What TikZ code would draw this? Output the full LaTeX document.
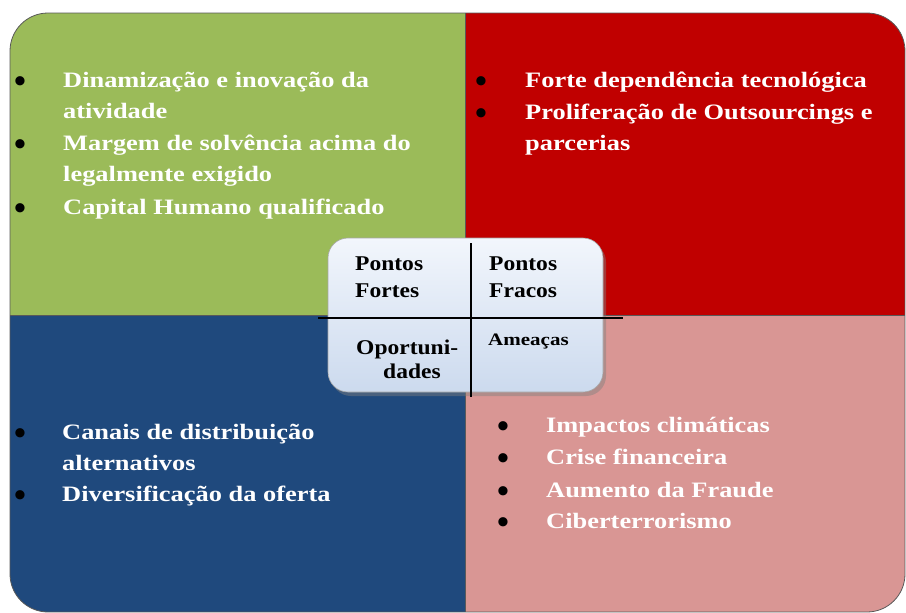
\documentclass[tikz,border=0pt]{standalone}
\usepackage{fontspec}
\setmainfont{Liberation Serif}
\newfontfamily\qfont[FakeStretch=1.2]{Liberation Serif}
\newfontfamily\cfont[FakeStretch=1.12]{Liberation Serif}
\usetikzlibrary{shadows}
\definecolor{qgreen}{HTML}{9BBB59}
\definecolor{qred}{HTML}{C00000}
\definecolor{qblue}{HTML}{1F497D}
\definecolor{qpink}{HTML}{D99694}
\definecolor{boxtop}{HTML}{F2F6FC}
\definecolor{boxbot}{HTML}{CCDAEE}
\begin{document}
\begin{tikzpicture}[x=1pt,y=-1pt,
  item/.style={anchor=base west, inner sep=0pt, text=white, font=\qfont\bfseries\fontsize{22}{26}\selectfont},
  dot/.style={anchor=center, inner sep=0pt, text=black, yshift=2pt, font=\bfseries\fontsize{34}{34}\selectfont},
  ctr/.style={anchor=base west, inner sep=0pt, text=black, font=\cfont\bfseries\fontsize{21}{25}\selectfont},
  ctrsmall/.style={anchor=base west, inner sep=0pt, text=black, font=\qfont\bfseries\fontsize{17.5}{21}\selectfont},
  edge/.style={draw=black!65, line width=0.8pt},
  cross/.style={draw=black, line width=1.5pt},
]
\useasboundingbox (0,0) rectangle (906,613);

% quadrants
\begin{scope}
  \clip[rounded corners=38pt] (10,13) rectangle (905,612);
  \fill[qgreen] (10,13) rectangle (465,315);
  \fill[qred]   (465,13) rectangle (905,315);
  \fill[qblue]  (10,315) rectangle (465,612);
  \fill[qpink]  (465,315) rectangle (905,612);
  \draw[edge] (465,13) -- (465,612);
  \draw[edge] (10,315) -- (905,315);
\end{scope}
\draw[edge, rounded corners=38pt] (10,13) rectangle (905,612);

% green
\node[dot]  (gb1) at (20,87)  {•};
\node[item] (g1)  at (63,87)  {Dinamização e inovação da};
\node[item] (g2)  at (63,118) {atividade};
\node[dot]  (gb2) at (20,150) {•};
\node[item] (g3)  at (63,150) {Margem de solvência acima do};
\node[item] (g4)  at (63,181) {legalmente exigido};
\node[dot]  (gb3) at (20,214) {•};
\node[item] (g5)  at (63,214) {Capital Humano qualificado};

% red
\node[dot]  (rb1) at (481,87)  {•};
\node[item] (r1)  at (525,87)  {Forte dependência tecnológica};
\node[dot]  (rb2) at (481,119) {•};
\node[item] (r2)  at (525,119) {Proliferação de Outsourcings e};
\node[item] (r3)  at (525,150) {parcerias};

% blue
\node[dot]  (bb1) at (20,439) {•};
\node[item] (b1)  at (62,439) {Canais de distribuição};
\node[item] (b2)  at (62,470) {alternativos};
\node[dot]  (bb2) at (20,501) {•};
\node[item] (b3)  at (62,501) {Diversificação da oferta};

% pink
\node[dot]  (pb1) at (503,432) {•};
\node[item] (p1)  at (546,432) {Impactos climáticas};
\node[dot]  (pb2) at (503,464) {•};
\node[item] (p2)  at (546,464) {Crise financeira};
\node[dot]  (pb3) at (503,497) {•};
\node[item] (p3)  at (546,497) {Aumento da Fraude};
\node[dot]  (pb4) at (503,528) {•};
\node[item] (p4)  at (546,528) {Ciberterrorismo};

% center box
\node[draw=black!35, line width=0.6pt, rounded corners=20pt,
      minimum width=275pt, minimum height=154pt, inner sep=0pt,
      top color=boxtop, bottom color=boxbot,
      drop shadow={shadow xshift=3pt, shadow yshift=-4pt, opacity=0.45}]
      (box) at (465.5,315) {};
\coordinate (vt) at (471,243);
\coordinate (vb) at (471,397);
\coordinate (hl) at (318,318);
\coordinate (hr) at (623,318);
\draw[cross] (vt) -- (vb);
\draw[cross] (hl) -- (hr);

\node[ctr] (c1) at (355,270) {Pontos};
\node[ctr] (c2) at (355,297) {Fortes};
\node[ctr] (c3) at (489,270) {Pontos};
\node[ctr] (c4) at (489,297) {Fracos};
\node[ctr] (c5) at (356,354) {Oportuni-};
\node[ctr] (c6) at (383,378) {dades};
\node[ctrsmall] (c7) at (488,345) {Ameaças};
\end{tikzpicture}
\end{document}
